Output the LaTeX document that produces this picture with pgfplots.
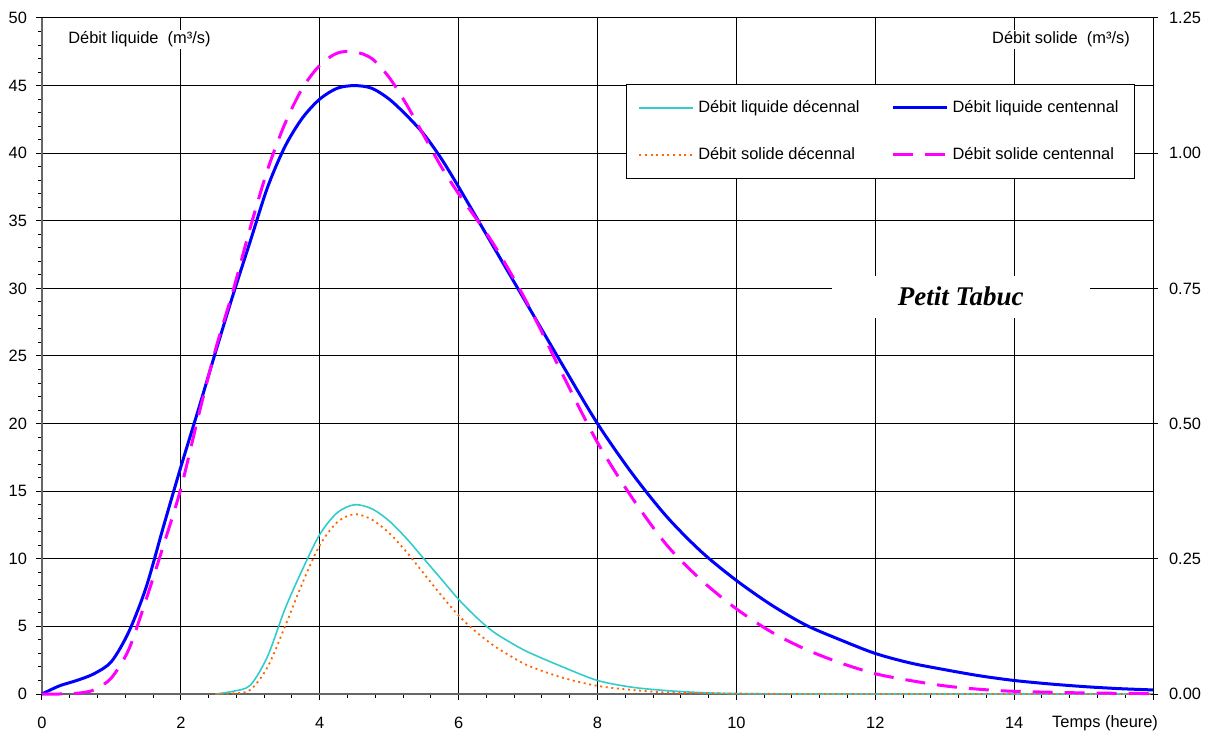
\documentclass[border=0pt]{standalone}
\usepackage{pgfplots}
\pgfplotsset{compat=1.18}
\usepackage{fontspec}
\setmainfont{Liberation Sans}
\newfontfamily\timesfont{Liberation Serif}
\definecolor{cCyan}{HTML}{33CCCC}
\definecolor{cBlue}{HTML}{0000FF}
\definecolor{cOrange}{HTML}{FF6600}
\definecolor{cMag}{HTML}{FF00FF}
\newcommand{\fs}{\fontsize{8.2}{9.8}\selectfont}
\pgfplotsset{
  common/.style={
    scale only axis, width=555.5pt, height=338pt,
    xmin=0, xmax=16, clip=false,
    /pgf/number format/assume math mode=true,
    tick label style={font=\fs},
    legend image code/.code={\draw[##1] (0pt,0pt) -- (27pt,0pt);},
  }
}
\begin{document}
\begin{tikzpicture}
\begin{axis}[common, name=main,
  ymin=0, ymax=50,
  axis x line*=bottom, axis y line*=left,
  axis line style={draw=gray!80!black, line width=0.8pt},
  xtick={0,2,4,6,8,10,12,14,16},
  xticklabels={0,2,4,6,8,10,12,14,},
  ytick={0,5,10,15,20,25,30,35,40,45,50},
  minor x tick num=4, minor y tick num=4,
  tick align=outside,
  major tick length=3pt, minor tick length=1.8pt,
  tick style={black, line width=0.5pt},
  xticklabel style={yshift=-5pt},
  yticklabel style={xshift=-1pt},
  grid=major,
  major grid style={black, line width=0.5pt},
]
\addplot[cBlue, line width=1.5pt, smooth] coordinates {
(0,0) (0.25,0.6) (0.5,1.0) (0.75,1.5) (1.0,2.4) (1.25,4.6) (1.5,7.9) (1.75,12.4)
(2.0,16.8) (2.25,21) (2.5,25.3) (2.75,29.5) (3.0,33.5) (3.25,37.5) (3.5,40.5)
(3.75,42.6) (4.0,44) (4.25,44.8) (4.5,45) (4.75,44.8) (5.0,44) (5.25,42.8)
(5.5,41.4) (5.75,39.6) (6.0,37.5) (6.5,33.1) (7.0,28.7) (7.5,24.3) (8.0,20)
(8.5,16.3) (9.0,13.1) (9.5,10.5) (10.0,8.4) (10.5,6.6) (11.0,5.1) (11.5,4.0)
(12.0,3.0) (12.5,2.3) (13.0,1.8) (13.5,1.35) (14.0,1.0) (14.5,0.75) (15.0,0.55)
(15.5,0.4) (16.0,0.3)};
\addplot[cCyan, line width=0.8pt, smooth] coordinates {
(2.5,0) (2.75,0.2) (3.0,0.65) (3.25,2.8) (3.5,6.3) (3.75,9.2) (4.0,11.8)
(4.25,13.4) (4.5,14.0) (4.75,13.7) (5.0,12.8) (5.25,11.5) (5.5,10) (5.75,8.5)
(6.0,7.0) (6.25,5.7) (6.5,4.6) (6.75,3.8) (7.0,3.1) (7.5,2.0) (8.0,1.0)
(8.5,0.5) (9.0,0.25) (9.5,0.1) (10,0.03) (11,0) (12,0) (13,0) (14,0) (15,0) (16,0)};
\node[fill=white, inner sep=1pt, anchor=west, font=\fs] at (axis cs:0.345,48.4) {Débit liquide\ \ (m³/s)};
\node[fill=white, inner sep=1pt, anchor=east, font=\fs] at (axis cs:15.7,48.4) {Débit solide\ \ (m³/s)};
\node[fill=white, minimum width=129pt, minimum height=21pt, font=\timesfont\bfseries\itshape\fontsize{13.5}{15}\selectfont] at (axis cs:13.23,29.4) {Petit Tabuc};
\node[anchor=north, inner sep=0pt, font=\fs] at (axis cs:15.31,0) [yshift=-10.5pt] {Temps (heure)};
\end{axis}
\begin{axis}[common,
  ymin=0, ymax=1.25,
  axis x line=none, axis y line*=right,
  axis line style={black, line width=0.5pt},
  ytick={0,0.25,0.5,0.75,1,1.25},
  yticklabel style={/pgf/number format/.cd, fixed, fixed zerofill, precision=2, /tikz/.cd, xshift=2pt},
  tick align=center, major tick length=5pt,
  tick style={black, line width=0.5pt},
  legend columns=2,
  legend cell align=left,
  legend style={at={(0.5257,0.9024)}, anchor=north west, draw=black, fill=white,
    font=\fs, inner xsep=6pt, inner ysep=6pt, row sep=12pt,
    /tikz/every even column/.append style={column sep=14pt}},
]
\addlegendimage{cCyan, line width=0.9pt}
\addlegendentry{Débit liquide décennal}
\addlegendimage{cBlue, line width=1.5pt}
\addlegendentry{Débit liquide centennal}
\addplot[cOrange, line width=0.9pt, dash pattern=on 1pt off 1.8pt, smooth] coordinates {
(2.5,0) (2.75,0.00125) (3.0,0.0075) (3.25,0.05) (3.5,0.125) (3.75,0.205) (4.0,0.275)
(4.25,0.3175) (4.5,0.3325) (4.75,0.3225) (5.0,0.2975) (5.25,0.2625) (5.5,0.2225)
(5.75,0.1825) (6.0,0.145) (6.25,0.115) (6.5,0.09) (6.75,0.07) (7.0,0.0525)
(7.5,0.03) (8.0,0.015) (8.5,0.0075) (9,0.003) (10,0.00075) (11,0) (12,0) (13,0) (14,0) (15,0) (16,0)};
\addlegendentry{Débit solide décennal}
\addplot[cMag, line width=1.5pt, dash pattern=on 10pt off 6pt, smooth] coordinates {
(0,0) (0.25,0) (0.5,0.00125) (0.75,0.0075) (1.0,0.03) (1.25,0.0825) (1.5,0.175)
(1.75,0.275) (2.0,0.38) (2.25,0.5125) (2.5,0.6375) (2.75,0.745) (3.0,0.8625)
(3.25,0.97) (3.5,1.055) (3.75,1.12) (4.0,1.1625) (4.25,1.185) (4.5,1.1875)
(4.75,1.175) (5.0,1.14) (5.25,1.09) (5.5,1.0325) (5.75,0.975) (6.0,0.925)
(6.5,0.8325) (7.0,0.72) (7.5,0.59) (8.0,0.465) (8.5,0.3625) (9.0,0.275)
(9.5,0.21) (10.0,0.1575) (10.5,0.115) (11.0,0.0825) (11.5,0.0575) (12.0,0.0375)
(12.5,0.025) (13.0,0.015) (13.5,0.00875) (14.0,0.005) (15.0,0.002) (16.0,0.00075)};
\addlegendentry{Débit solide centennal}
\end{axis}
\pgfresetboundingbox
\path[use as bounding box] ([xshift=-21pt,yshift=-19.5pt]main.south west) rectangle ([xshift=28.5pt,yshift=9pt]main.north east);
\end{tikzpicture}
\end{document}
